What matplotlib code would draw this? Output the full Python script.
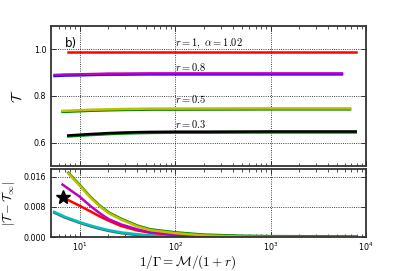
"""Convergence of T with 1/Gamma for several r (two-panel log-x plot)."""

import matplotlib

matplotlib.use("Agg")
import matplotlib.pyplot as plt
import matplotlib.transforms as mtransforms
from matplotlib.ticker import FormatStrFormatter

plt.rcParams["mathtext.fontset"] = "cm"
plt.rcParams["font.family"] = "DejaVu Sans"

# --- top panel: T against 1/Gamma ---
x_r10 = [7.6, 10, 100, 1000, 7800]
t_r10 = [0.990, 0.990, 0.990, 0.990, 0.990]

x_r08 = [5.45, 7, 10, 13, 16.5, 20, 27, 55, 100, 1000, 5600]
t_r08 = [0.890, 0.892, 0.893, 0.894, 0.895, 0.896, 0.896, 0.897, 0.897, 0.897, 0.897]

x_r05 = [6.6, 10, 13, 16.5, 20, 27, 40, 55, 100, 1000, 6800]
t_r05 = [0.736, 0.739, 0.741, 0.742, 0.743, 0.744, 0.745, 0.746, 0.746, 0.747, 0.747]

x_r03 = [7.6, 10, 13, 16.5, 20, 27, 40, 55, 100, 200, 1000, 7800]
t_r03 = [0.631, 0.634, 0.637, 0.639, 0.641, 0.643, 0.645, 0.646, 0.647, 0.647, 0.648, 0.648]

labels_top = [r"$r=1,\ \alpha=1.02$", r"$r=0.8$", r"$r=0.5$", r"$r=0.3$"]

# --- bottom panel: |T - T_inf| ---
x_yel = [7.6, 10, 13, 16.5, 20, 27, 40, 55, 100, 200, 500, 1000, 7800]
d_yel = [0.0168, 0.0136, 0.0104, 0.0080, 0.0064, 0.0047, 0.0029, 0.0019,
         0.0011, 0.0005, 0.0002, 0.0001, 0.0]

x_mag = [6.6, 8, 10, 13, 16.5, 20, 27, 40, 55, 100, 200, 500, 1000, 6800]
d_mag = [0.0139, 0.0124, 0.0107, 0.0082, 0.0062, 0.0048, 0.0034, 0.0021,
         0.0013, 0.0007, 0.0003, 0.0001, 0.00005, 0.0]

x_red = [6.8, 8, 10, 13, 16.5, 20, 27, 40, 55, 100, 200, 500, 1000, 7800]
d_red = [0.0104, 0.0095, 0.0083, 0.0068, 0.0054, 0.0044, 0.0030, 0.0018,
         0.0012, 0.0006, 0.0003, 0.0001, 0.00005, 0.0]

x_cyn = [5.4, 7, 10, 13, 16.5, 20, 27, 40, 55, 100, 200, 500, 5600]
d_cyn = [0.0067, 0.0054, 0.0040, 0.0031, 0.0024, 0.0019, 0.0013, 0.0008,
         0.0005, 0.0003, 0.0001, 0.00005, 0.0]

star_x = [6.6]
star_y = [0.0107]

fig = plt.figure(figsize=(4.07, 2.71), dpi=100)
ax1 = fig.add_axes([0.1253, 0.3875, 0.774, 0.5166])
ax2 = fig.add_axes([0.1253, 0.1244, 0.774, 0.2520])

down1 = mtransforms.offset_copy(ax1.transData, fig=fig, x=0, y=-1.0, units="dots")
down2 = mtransforms.offset_copy(ax2.transData, fig=fig, x=0, y=-0.8, units="dots")
up2 = mtransforms.offset_copy(ax2.transData, fig=fig, x=0, y=0.8, units="dots")

lw = 1.8
ax1.plot(x_r10, t_r10, color="r", lw=lw)
ax1.plot(x_r08, t_r08, color="b", lw=lw, transform=down1)
ax1.plot(x_r08, t_r08, color="m", lw=lw)
ax1.plot(x_r05, t_r05, color="g", lw=lw, transform=down1)
ax1.plot(x_r05, t_r05, color="y", lw=lw)
ax1.plot(x_r03, t_r03, color="g", lw=lw, transform=down1)
ax1.plot(x_r03, t_r03, color="k", lw=lw)

label_y = [1.014, 0.909, 0.772, 0.664]
for txt, ly in zip(labels_top, label_y):
    ax1.text(100, ly, txt, fontsize=7.5, va="baseline", ha="left")
ax1.text(0.044, 0.92, "b)", transform=ax1.transAxes, fontsize=8.5,
         va="top", ha="left")

ax2.plot(x_cyn, d_cyn, color="0.35", lw=lw, transform=down2)
ax2.plot(x_cyn, d_cyn, color="c", lw=lw)
ax2.plot(x_red, d_red, color="r", lw=lw)
ax2.plot(x_mag, d_mag, color="m", lw=lw)
ax2.plot(x_yel, d_yel, color="g", lw=lw, transform=up2)
ax2.plot(x_yel, d_yel, color="y", lw=lw)
ax2.plot(star_x, star_y, marker="*", color="k", ms=10, ls="none")

for ax in (ax1, ax2):
    ax.set_xscale("log")
    ax.set_xlim(5, 1e4)
    ax.grid(True, which="major", ls=":", color="k", lw=0.6)
    ax.tick_params(which="both", direction="in", top=True, right=True,
                   labelsize=5.7, color="0.2")
    ax.tick_params(which="major", length=3.5, width=0.7)
    ax.tick_params(which="minor", length=2, width=0.6)
    for sp in ax.spines.values():
        sp.set_linewidth(1.3)
        sp.set_color("0.2")

ax1.set_ylim(0.5, 1.1)
ax1.set_yticks([0.6, 0.8, 1.0])
ax1.tick_params(labelbottom=False)
ax1.set_ylabel(r"$\mathcal{T}$", fontsize=10)
ax1.yaxis.set_label_coords(-0.083, 0.5)

ax2.set_ylim(0, 0.018)
ax2.set_yticks([0.0, 0.008, 0.016])
ax2.yaxis.set_major_formatter(FormatStrFormatter("%.3f"))
ax2.tick_params(axis="x", which="major", pad=2.5)
ax2.set_ylabel(r"$|\mathcal{T}-\mathcal{T}_{\infty}|$", fontsize=9)
ax2.yaxis.set_label_coords(-0.108, 0.5)
ax2.set_xlabel(r"$1/\Gamma=\mathcal{M}/(1+r)$", fontsize=9.5)
ax2.xaxis.set_label_coords(0.435, -0.235)
ax2.xaxis.label.set_va("top")

fig.savefig("out.png", dpi=100)
